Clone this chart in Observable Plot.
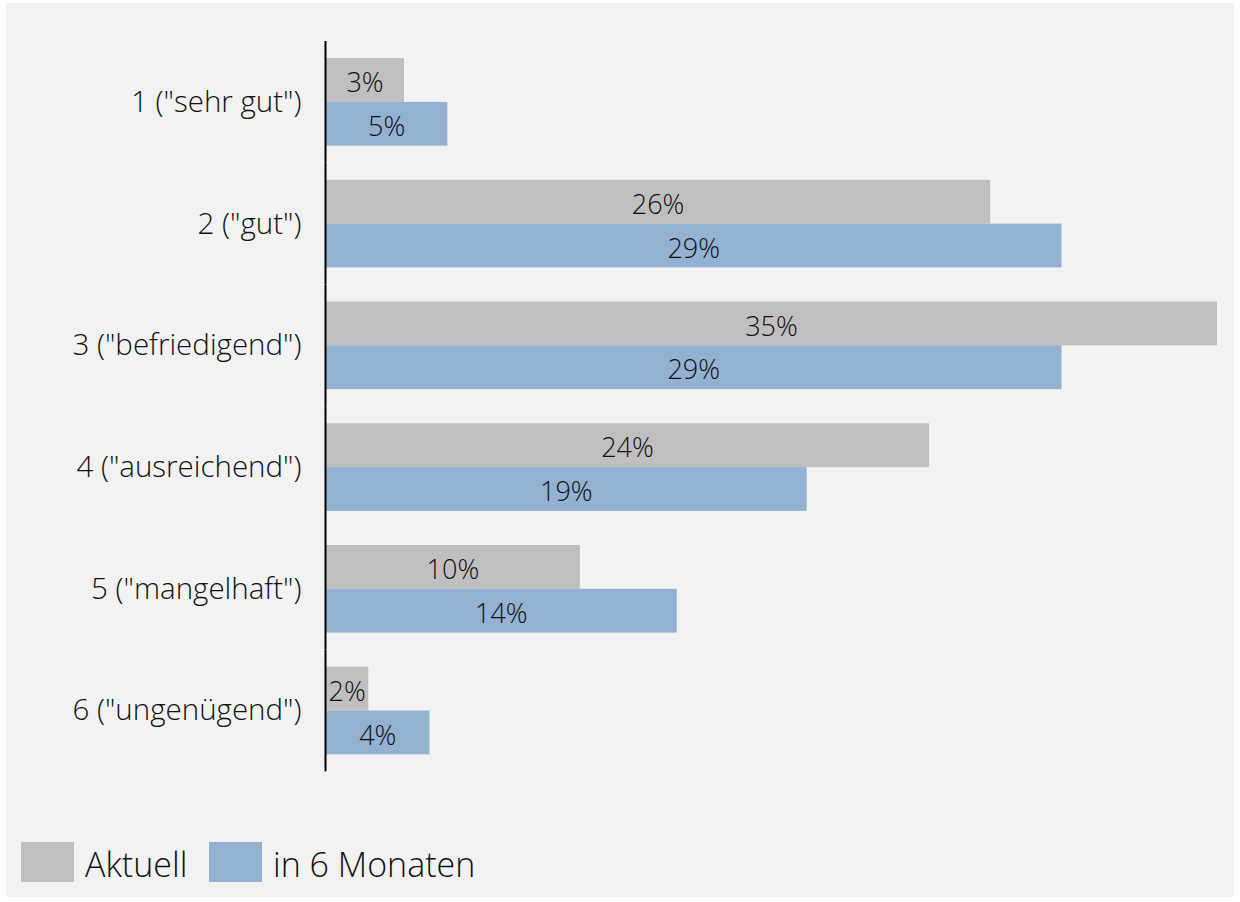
<!DOCTYPE html>
<html>
<head>
<meta charset="utf-8">
<script src="https://cdn.jsdelivr.net/npm/d3@7"></script>
<script src="https://cdn.jsdelivr.net/npm/@observablehq/plot@0.6"></script>
<style>
  html, body { margin: 0; padding: 0; background: #ffffff; }
  #frame { position: absolute; left: 6px; top: 3px; width: 1228px; height: 894px; background: #f2f2f2; }
  #chart { position: absolute; left: 0; top: 0; }
  #legend { position: absolute; left: 0; top: 0; width: 1240px; height: 902px; pointer-events: none; }
  .sw { position: absolute; top: 842px; width: 53px; height: 40px; }
  .lt { position: absolute; top: 840px; font-family: "Open Sans", sans-serif; font-weight: 300; font-size: 34px; color: #111; line-height: 48px; white-space: nowrap; }
</style>
</head>
<body>
<div id="frame"></div>
<div id="chart"></div>
<div id="legend"></div>
<script>
const categories = ['1 ("sehr gut")', '2 ("gut")', '3 ("befriedigend")', '4 ("ausreichend")', '5 ("mangelhaft")', '6 ("ungenügend")'];
const series = ["Aktuell", "in 6 Monaten"];
const aktuell = [3.1, 26.1, 35.0, 23.7, 10.0, 1.7];
const in6Monaten = [4.8, 28.9, 28.9, 18.9, 13.8, 4.1];
const colors = ["#bfbfbf", "#93b1d0"];

const data = [];
categories.forEach((c, i) => {
  data.push({category: c, series: series[0], value: aktuell[i]});
  data.push({category: c, series: series[1], value: in6Monaten[i]});
});

const font = '"Open Sans", sans-serif';

const chart = Plot.plot({
  width: 1240,
  height: 800,
  marginLeft: 325,
  marginRight: 23,
  marginTop: 41,
  marginBottom: 28.6,
  style: {background: "transparent", fontFamily: font, fontSize: "29.5px", fontWeight: 300, color: "#111"},
  x: {domain: [0, 35], axis: null},
  y: {domain: series, axis: null, paddingInner: 0, paddingOuter: 0.39, round: false},
  fy: {domain: categories, padding: 0, round: false, label: null, tickSize: 0, tickPadding: 24},
  color: {domain: series, range: colors},
  marks: [
    Plot.barX(data, {x: "value", y: "series", fy: "category", fill: "series"}),
    Plot.text(data, {x: d => d.value / 2, y: "series", fy: "category", text: d => Math.round(d.value) + "%", fill: "#111", fontSize: 27, fontWeight: 300, dy: 3}),
    Plot.ruleX([0], {stroke: "#000", strokeWidth: 2})
  ]
});
document.getElementById("chart").appendChild(chart);

const legend = document.getElementById("legend");
const items = [{x: 21, tx: 85}, {x: 209, tx: 273}];
series.forEach((s, i) => {
  const sw = document.createElement("div");
  sw.className = "sw";
  sw.style.left = items[i].x + "px";
  sw.style.background = colors[i];
  legend.appendChild(sw);
  const t = document.createElement("div");
  t.className = "lt";
  t.style.left = items[i].tx + "px";
  t.textContent = s;
  legend.appendChild(t);
});
</script>
</body>
</html>
